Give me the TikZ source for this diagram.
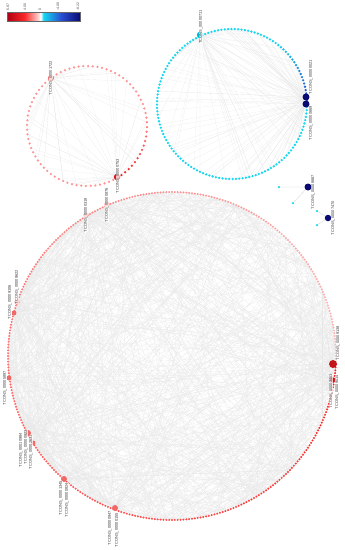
\documentclass[tikz,border=0pt]{standalone}
\usepackage{fontspec}
\newfontfamily\lblfont{Liberation Sans}
\usetikzlibrary{calc}

\definecolor{barred}{RGB}{175,0,20}
\definecolor{hotred}{RGB}{250,40,40}
\definecolor{palered}{RGB}{252,200,200}
\definecolor{ringcyan}{RGB}{20,215,240}
\definecolor{midblue}{RGB}{40,80,210}
\definecolor{deepnavy}{RGB}{10,10,115}
\definecolor{hubred}{RGB}{240,105,105}
\definecolor{darkhub}{RGB}{195,20,25}
\definecolor{hubcyan}{RGB}{0,185,210}

\pgfdeclarehorizontalshading{scalebar}{100bp}{color(0bp)=(barred); color(25bp)=(barred);
  color(37bp)=(hotred); color(46bp)=(palered); color(48bp)=(white); color(50bp)=(ringcyan);
  color(62bp)=(midblue); color(75bp)=(deepnavy); color(100bp)=(deepnavy)}

\pgfdeclarelayer{background}
\pgfsetlayers{background,main}

\tikzset{
  edge/.style={black!9, line width=0.15pt},
  hub/.style={circle, inner sep=0pt, minimum size=#1},
  hub/.default=6pt,
  lbl/.style={rotate=90, font=\lblfont\fontsize{4}{4}\selectfont, text=black!75,
    fill=white, fill opacity=0.75, text opacity=1, inner sep=0.3pt},
  tick/.style={rotate=90, anchor=west, font=\lblfont\fontsize{3.5}{3.5}\selectfont,
    text=black!70, inner sep=0.3pt}
}

\begin{document}
\begin{tikzpicture}[x=1pt, y=-1pt]
  \useasboundingbox (0,0) rectangle (345,550);
  \pgfmathsetseed{17}
  % colour scale
  \shadedraw[shading=scalebar, draw=black!60, line width=0.3pt] (7,12) rectangle (80,21);
  \node[tick] (k1) at (8,11) {6.87};
  \node[tick] (k2) at (25,11) {4.00};
  \node[tick] (k3) at (40,11) {0};
  \node[tick] (k4) at (58,11) {-4.00};
  \node[tick] (k5) at (78,11) {-8.22};
  % centres of the three rings
  \coordinate (bc) at (172,356);
  \coordinate (sc) at (87,126);
  \coordinate (cc) at (232,104);
  % ring positions
  \foreach \i in {0,...,359} \coordinate (b\i) at ($(bc)+(3+\i:164)$);
  \foreach \i in {0,...,79} \coordinate (s\i) at ($(sc)+(59.5-4.5*\i:60)$);
  \foreach \i in {0,...,139} \coordinate (c\i) at ($(cc)+(357-2.5714*\i:75)$);
  % ring dots
  \foreach \i in {0,...,359} {
    \pgfmathtruncatemacro\p{88-\i/6}
    \fill[red!\p!white] (b\i) circle (1.1pt);
  }
  \foreach \i in {0,...,79} {
    \pgfmathtruncatemacro\p{max(42,92-3*\i)}
    \fill[red!\p!white] (s\i) circle (1.25pt);
  }
  \foreach \i in {0,...,139} {
    \pgfmathtruncatemacro\p{max(0,100-5*\i)}
    \fill[midblue!\p!ringcyan] (c\i) circle (1.3pt);
  }
  % hubs of the big ring
  \node[hub=8pt, fill=darkhub] (bh1) at (333,364) {};
  \node[hub=6pt, fill=darkhub] (bh2) at (332,380) {};
  \node[hub, fill=hubred] (bh3) at (115,508) {};
  \node[hub, fill=hubred] (bh4) at (64,479) {};
  \node[hub, fill=hubred] (bh5) at (28,433) {};
  \node[hub=5pt, fill=hubred] (bh6) at (33,443) {};
  \node[hub=5pt, fill=hubred] (bh7) at (9,378) {};
  \node[hub=5pt, fill=hubred] (bh8) at (14,313) {};
  \node[hub=5pt, fill=hubred] (bh9) at (17,302) {};
  \node[hub=5pt, fill=hubred] (bh10) at (86,215) {};
  \node[hub=5pt, fill=hubred] (bh11) at (107,204) {};
  % hubs of the small rings
  \node[hub, fill=hubred] (sh1) at (51,78) {};
  \node[hub=6.5pt, fill=darkhub!70!hotred] (sh2) at (117,177) {};
  \node[hub=6.5pt, fill=hubcyan] (ch1) at (200,35) {};
  \node[hub=7pt, fill=deepnavy] (ch2) at (306,97) {};
  \node[hub=7pt, fill=deepnavy] (ch3) at (306,104) {};
  % the detached pair
  \node[hub=7pt, fill=deepnavy] (n1) at (308,187) {};
  \node[hub=6.5pt, fill=deepnavy] (n2) at (328,218) {};
  \node[hub=2.5pt, fill=ringcyan] (t1) at (279,187) {};
  \node[hub=2.5pt, fill=ringcyan] (t2) at (293,203) {};
  \node[hub=2.5pt, fill=ringcyan] (t3) at (317,211) {};
  \node[hub=2.5pt, fill=ringcyan] (t4) at (317,225) {};
  % edges
  \begin{pgfonlayer}{background}
    \foreach \h in {bh1,bh2,bh3,bh4,bh5,bh6,bh7,bh8,bh9,bh10,bh11}
      \foreach \k in {1,...,35} {
        \pgfmathrandominteger\m{0}{359}
        \draw[edge] (\h) -- (b\m);
      }
    \foreach \k in {1,...,600} {
      \pgfmathrandominteger\m{0}{359}
      \pgfmathrandominteger\n{0}{359}
      \draw[edge] (b\m) -- (b\n);
    }
    \foreach \h in {sh1,sh2}
      \foreach \k in {1,...,30} {
        \pgfmathrandominteger\m{0}{79}
        \draw[edge] (\h) -- (s\m);
      }
    \foreach \h in {ch1,ch2,ch3}
      \foreach \k in {1,...,45} {
        \pgfmathrandominteger\m{0}{139}
        \draw[edge] (\h) -- (c\m);
      }
    \draw[black!18, line width=0.3pt] (n1) -- (t1) (n1) -- (t2) (n2) -- (t3) (n2) -- (t4);
  \end{pgfonlayer}
  % labels
  \node[lbl] (l1) at (201,27) {TCONS\_00000711};
  \node[lbl] (l2) at (311,77) {TCONS\_00000021};
  \node[lbl] (l3) at (311,123) {TCONS\_00000669};
  \node[lbl] (l4) at (51,78) {TCONS\_00001722};
  \node[lbl] (l5) at (118,176) {TCONS\_00000753};
  \node[lbl] (l6) at (313,192) {TCONS\_00008887};
  \node[lbl] (l7) at (333,218) {TCONS\_00007470};
  \node[lbl] (l8) at (86,215) {TCONS\_00000318};
  \node[lbl] (l9) at (107,205) {TCONS\_00000876};
  \node[lbl] (l10) at (10,302) {TCONS\_00009106};
  \node[lbl] (l11) at (17,287) {TCONS\_00009622};
  \node[lbl] (l12) at (5,388) {TCONS\_00005897};
  \node[lbl] (l13) at (21,450) {TCONS\_00010984};
  \node[lbl] (l14) at (26,447) {TCONS\_00000923};
  \node[lbl] (l15) at (31,452) {TCONS\_00002631};
  \node[lbl] (l16) at (61,498) {TCONS\_00001345};
  \node[lbl] (l17) at (67,500) {TCONS\_00000824};
  \node[lbl] (l18) at (110,528) {TCONS\_00000947};
  \node[lbl] (l19) at (117,530) {TCONS\_00000155};
  \node[lbl] (l20) at (338,343) {TCONS\_00009138};
  \node[lbl] (l21) at (331,391) {TCONS\_00003453};
  \node[lbl] (l22) at (337,392) {TCONS\_00009014};
\end{tikzpicture}
\end{document}
